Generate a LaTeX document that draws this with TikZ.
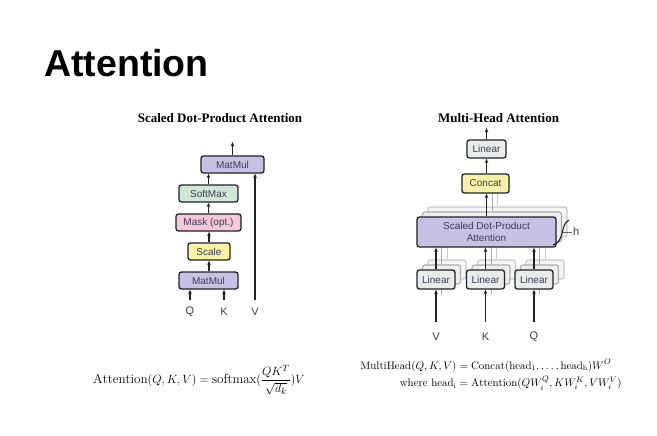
\documentclass[tikz,border=0pt]{standalone}
\usepackage{amsmath}
\usepackage{fontspec}
\setsansfont{Liberation Sans}
\newfontfamily\headfont{Liberation Serif}
\usetikzlibrary{arrows.meta}

\definecolor{boxline}{HTML}{222226}
\definecolor{boxtext}{HTML}{3C3C55}
\definecolor{mmfill}{HTML}{C9C0E6}
\definecolor{smfill}{HTML}{CFE8D5}
\definecolor{maskfill}{HTML}{F5C8D8}
\definecolor{scfill}{HTML}{F8F1A8}
\definecolor{linfill}{HTML}{E8EDEB}
\definecolor{ghostline}{HTML}{A0A0A0}
\definecolor{ghostfill}{HTML}{EEEEEE}

\tikzset{
  blk/.style={draw=boxline, line width=1.3pt, rounded corners=2.5pt,
    inner sep=0pt, text=boxtext, align=center,
    font=\sffamily\fontsize{10}{11.5}\selectfont},
  ghost/.style={draw=ghostline, fill=ghostfill, line width=1.1pt,
    rounded corners=2.5pt, inner sep=0pt, text opacity=0},
  flow/.style={line width=1.3pt, draw=boxline,
    -{Stealth[length=4.5pt,width=3.6pt]}},
  gflow/.style={line width=1pt, draw=ghostline,
    -{Stealth[length=4pt,width=3.2pt]}},
  lbl/.style={font=\sffamily\fontsize{11}{12}\selectfont, text=boxtext},
  head/.style={font=\headfont\bfseries\fontsize{13}{15}\selectfont},
}

\begin{document}
\begin{tikzpicture}[x=1pt,y=-1pt]
\useasboundingbox[fill=white] (0,0) rectangle (657,436);

% page title
\node[anchor=base west, inner sep=0, font=\sffamily\bfseries\fontsize{37.5}{40}\selectfont]
  (title) at (44,77) {Attention};

% ---------------- scaled dot-product attention ----------------
\node[head] (ltitle) at (220,118) {Scaled Dot-Product Attention};

\node[blk, fill=mmfill, minimum width=63, minimum height=17] (mmtop) at (232.5,164.5) {MatMul};
\node[blk, fill=smfill, minimum width=59, minimum height=17] (soft) at (208.5,193.5) {SoftMax};
\node[blk, fill=maskfill, minimum width=65, minimum height=17] (mask) at (208.5,222.5) {Mask (opt.)};
\node[blk, fill=scfill, minimum width=42, minimum height=17] (scale) at (209,251.5) {Scale};
\node[blk, fill=mmfill, minimum width=59, minimum height=17] (mmbot) at (208.5,280.5) {MatMul};

\coordinate (lout) at (232.5,142);
\coordinate (qin) at (190,300);
\coordinate (kin) at (224,300);
\coordinate (vin) at (255,300);

\draw[flow] (mmbot.north -| scale) -- (scale.south);
\draw[flow] (scale.north) -- (scale.north |- mask.south);
\draw[flow] (mask.north) -- (mask.north |- soft.south);
\draw[flow] (soft.north) -- (soft.north |- mmtop.south);
\draw[flow] (mmtop.north) -- (lout);
\draw[flow] (qin) -- (qin |- mmbot.south);
\draw[flow] (kin) -- (kin |- mmbot.south);
\draw[flow] (vin) -- (vin |- mmtop.south);

\node[lbl] (lq) at (190,312) {Q};
\node[lbl] (lk) at (224,312) {K};
\node[lbl] (lv) at (255,312) {V};

% ---------------- multi-head attention ----------------
\node[head] (rtitle) at (498.5,118) {Multi-Head Attention};

% stacked heads behind the front one (farthest first)
\foreach \dx/\dy/\op in {11/-10/0.55, 5.5/-5/0.85} {
  \begin{scope}[shift={(\dx,\dy)}, opacity=\op]
    \node[ghost, minimum width=139, minimum height=30] (sg) at (486.5,232) {};
    \foreach \cx in {436,485.5,534} {
      \node[ghost, minimum width=38, minimum height=19] (lg) at (\cx,279.5) {};
      \draw[gflow] (lg.north) -- (\cx,247);
      \draw[gflow] (\cx,300) -- (\cx,289);
    }
    \draw[gflow] (sg.north) -- (486.5,193);
  \end{scope}
}

\node[blk, fill=mmfill, minimum width=139, minimum height=30] (sdpa) at (486.5,232)
  {Scaled Dot-Product\\Attention};
\node[blk, fill=scfill, minimum width=47, minimum height=19] (concat) at (485.5,183.5) {Concat};
\node[blk, fill=linfill, minimum width=39, minimum height=18] (lintop) at (486.5,149) {Linear};
\node[blk, fill=linfill, minimum width=38, minimum height=19] (linv) at (436,279.5) {Linear};
\node[blk, fill=linfill, minimum width=38, minimum height=19] (link) at (485.5,279.5) {Linear};
\node[blk, fill=linfill, minimum width=38, minimum height=19] (linq) at (534,279.5) {Linear};

\coordinate (rout) at (486.5,128);
\coordinate (vin2) at (436,322);
\coordinate (kin2) at (485.5,322);
\coordinate (qin2) at (534,322);

\draw[flow] (lintop.north) -- (rout);
\draw[flow] (concat.north -| lintop) -- (lintop.south);
\draw[flow] (sdpa.north) -- (sdpa.north |- concat.south);
\draw[flow] (linv.north) -- (linv.north |- sdpa.south);
\draw[flow] (link.north) -- (link.north |- sdpa.south);
\draw[flow] (linq.north) -- (linq.north |- sdpa.south);
\draw[flow] (vin2) -- (linv.south);
\draw[flow] (kin2) -- (link.south);
\draw[flow] (qin2) -- (linq.south);

% head count marker
\coordinate (hb) at (553,245);
\coordinate (ht) at (569,220);
\draw[line width=1.1pt, draw=boxline] (hb) .. controls (565,242) and (560,224) .. (ht);
\draw[line width=0.9pt, draw=boxline!70] (563,232) -- (572,232);
\node[lbl, anchor=west, inner sep=1pt] (hlbl) at (572,232) {h};

\node[lbl] (rv) at (436,337) {V};
\node[lbl] (rk) at (485.5,337) {K};
\node[lbl] (rq) at (534,337) {Q};

% ---------------- formulas ----------------
\node[inner sep=0, font=\fontsize{13.1}{15}\selectfont] (eq1) at (199,380)
  {$\mathrm{Attention}(Q,K,V)=\mathrm{softmax}(\dfrac{QK^T}{\sqrt{d_k}})V$};

\node[inner sep=0, font=\fontsize{10.9}{13}\selectfont] (eq2) at (491,375)
  {$\begin{aligned}
   \mathrm{MultiHead}(Q,K,V) &= \mathrm{Concat}(\mathrm{head_1},\dots,\mathrm{head_h})W^O\\[-1pt]
   \text{where}\ \mathrm{head_i} &= \mathrm{Attention}(QW^Q_i, KW^K_i, VW^V_i)
   \end{aligned}$};
\end{tikzpicture}
\end{document}
